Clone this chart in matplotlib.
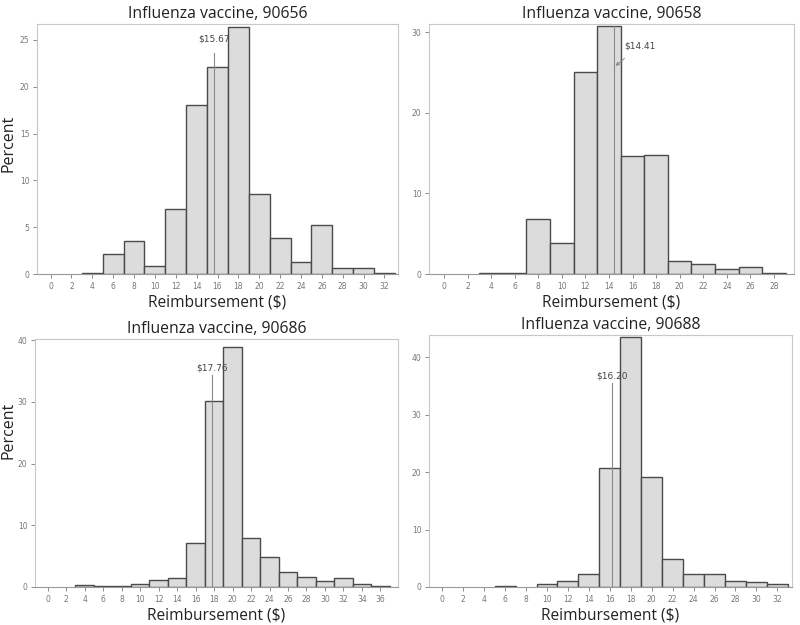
import matplotlib
matplotlib.use("Agg")
import matplotlib.pyplot as plt

W, H = 800, 625

titles = ["Influenza vaccine, 90656", "Influenza vaccine, 90658",
          "Influenza vaccine, 90686", "Influenza vaccine, 90688"]

# bin centers (width 2) and percent values
c1 = [4, 6, 8, 10, 12, 14, 16, 18, 20, 22, 24, 26, 28, 30, 32]
v1 = [0.1, 2.1, 3.5, 0.9, 6.9, 18.0, 22.1, 26.4, 8.5, 3.8, 1.3, 5.2, 0.6, 0.6, 0.1]
c2 = [4, 6, 8, 10, 12, 14, 16, 18, 20, 22, 24, 26, 28]
v2 = [0.1, 0.15, 6.8, 3.9, 25.0, 30.7, 14.6, 14.7, 1.6, 1.2, 0.6, 0.85, 0.1]
c3 = [4, 6, 8, 10, 12, 14, 16, 18, 20, 22, 24, 26, 28, 30, 32, 34, 36]
v3 = [0.3, 0.2, 0.2, 0.5, 1.2, 1.4, 7.2, 30.2, 38.9, 7.9, 4.9, 2.5, 1.6, 0.9, 1.4, 0.5, 0.2]
c4 = [6, 10, 12, 14, 16, 18, 20, 22, 24, 26, 28, 30, 32]
v4 = [0.2, 0.6, 1.0, 2.3, 20.8, 43.5, 19.2, 4.9, 2.3, 2.3, 1.0, 0.9, 0.6]

means = [15.67, 14.41, 17.76, 16.20]
mean_labels = ["$15.67", "$14.41", "$17.76", "$16.20"]

xticks = [list(range(0, 33, 2)), list(range(0, 29, 2)),
          list(range(0, 37, 2)), list(range(0, 33, 2))]
yticks = [[0, 5, 10, 15, 20, 25], [0, 10, 20, 30],
          [0, 10, 20, 30, 40], [0, 10, 20, 30, 40]]

# pixel boxes: left, right, top, bottom
boxes = [(37, 398, 24, 274), (429, 794, 24, 274),
         (35, 398, 339, 587), (429, 792, 335, 587)]
xlims = [(-1.3, 33.3), (-1.27, 29.7), (-1.37, 37.9), (-1.27, 33.4)]
ylims = [(0, 26.7), (0, 31.0), (0, 40.2), (0, 43.9)]
line_tops = [23.6, 30.7, 34.4, 35.5]
label_ys = [25.1, 28.3, 35.5, 36.7]
percent_y = [143, 430]

fig = plt.figure(figsize=(W / 100, H / 100), dpi=100)
fig.patch.set_facecolor("white")

data = [(c1, v1), (c2, v2), (c3, v3), (c4, v4)]
for i, ((cs, vs), (l, r, t, b)) in enumerate(zip(data, boxes)):
    ax = fig.add_axes([l / W, (H - b) / H, (r - l) / W, (b - t) / H])
    ax.bar(cs, vs, width=2, color="#dcdcdc", edgecolor="#4a4a4a", linewidth=1.0, zorder=2)
    ax.set_xlim(*xlims[i])
    ax.set_ylim(*ylims[i])
    ax.set_xticks(xticks[i])
    ax.set_yticks(yticks[i])
    ax.tick_params(axis="both", labelsize=5.5, colors="#777777", length=3, width=0.6, pad=2.5)
    for sp in ax.spines.values():
        sp.set_color("#c8c8c8")
        sp.set_linewidth(0.8)
    ax.spines["bottom"].set_color("#999999")
    ax.set_title(titles[i], fontsize=11.3, family="Open Sans", color="#222222", pad=4)
    ax.set_xlabel("Reimbursement ($)", fontsize=11.2, family="Open Sans", color="#222222", labelpad=3)
    m = means[i]
    ax.plot([m, m], [0, line_tops[i]], color="#8a8a8a", linewidth=0.8, zorder=3)
    if i == 1:
        ax.annotate(mean_labels[i], xy=(14.55, 25.8), xytext=(16.6, label_ys[i]),
                    fontsize=6.5, color="#444444", ha="center", va="center",
                    arrowprops=dict(arrowstyle="-|>", color="#8a8a8a", lw=0.7,
                                    mutation_scale=5, shrinkA=6, shrinkB=0))
    else:
        ax.text(m, label_ys[i], mean_labels[i], fontsize=6.5, color="#444444",
                ha="center", va="center")

for py in percent_y:
    fig.text(9 / W, (H - py) / H, "Percent", rotation=90, fontsize=11.5,
             family="Open Sans", color="#222222", ha="center", va="center")

fig.savefig("out.png", dpi=100)
